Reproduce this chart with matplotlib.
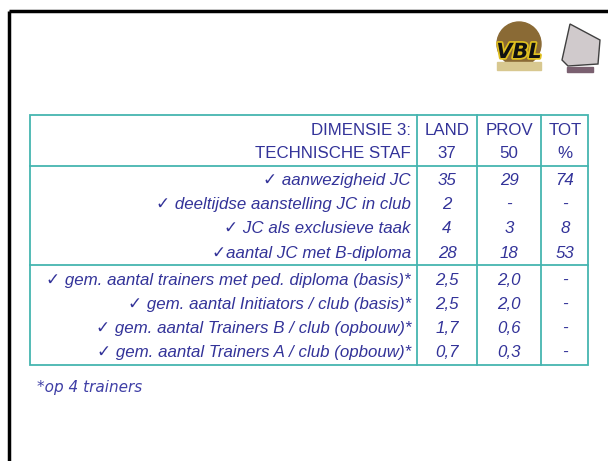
import matplotlib.pyplot as plt
from matplotlib.patches import Circle, Polygon, Rectangle
import matplotlib.patheffects as pe

# table contents
header_left = ['DIMENSIE 3:', 'TECHNISCHE STAF']
col_heads = ['LAND', 'PROV', 'TOT']
col_sub = ['37', '50', '%']

rows_a = ['\u2713 aanwezigheid JC', '\u2713 deeltijdse aanstelling JC in club',
          '\u2713 JC als exclusieve taak', '\u2713aantal JC met B-diploma']
land_a = ['35', '2', '4', '28']
prov_a = ['29', '-', '3', '18']
tot_a = ['74', '-', '8', '53']

rows_b = ['\u2713 gem. aantal trainers met ped. diploma (basis)*',
          '\u2713 gem. aantal Initiators / club (basis)*',
          '\u2713 gem. aantal Trainers B / club (opbouw)*',
          '\u2713 gem. aantal Trainers A / club (opbouw)*']
land_b = ['2,5', '2,5', '1,7', '0,7']
prov_b = ['2,0', '2,0', '0,6', '0,3']
tot_b = ['-', '-', '-', '-']

note = '*op 4 trainers'

blue = '#333399'
teal = '#45b5b0'
fam = ['Liberation Sans', 'DejaVu Sans']
fs = 12.2

fig = plt.figure(figsize=(6.08, 4.61), dpi=100)
ax = fig.add_axes([0, 0, 1, 1])
ax.set_xlim(0, 608)
ax.set_ylim(461, 0)
ax.axis('off')

# slide frame
ax.plot([9, 9], [461, 11], color='black', lw=2.5, solid_capstyle='butt')
ax.plot([9, 608], [11, 11], color='black', lw=2.5, solid_capstyle='butt')

# table grid
L, R, T, B = 30, 588, 115, 365
xs = [417, 477, 541]
ax.add_patch(Rectangle((L, T), R - L, B - T, fill=False, ec=teal, lw=1.3))
for x in xs:
    ax.plot([x, x], [T, B], color=teal, lw=1.3)
for y in [166, 265]:
    ax.plot([L, R], [y, y], color=teal, lw=1.3)

centers = [447, 509, 565]
lab_x = 411

for i, y in enumerate([130, 153]):
    ax.text(lab_x, y, header_left[i], ha='right', va='center', fontsize=fs,
            color=blue, family=fam)
for j in range(3):
    ax.text(centers[j], 130, col_heads[j], ha='center', va='center', fontsize=fs,
            color=blue, family=fam)
    ax.text(centers[j], 153, col_sub[j], ha='center', va='center', fontsize=fs,
            color=blue, family=fam)

ya = [180, 204, 228, 253]
for i, y in enumerate(ya):
    ax.text(lab_x, y, rows_a[i], ha='right', va='center', fontsize=fs,
            color=blue, family=fam, style='italic')
    for j, v in enumerate([land_a[i], prov_a[i], tot_a[i]]):
        ax.text(centers[j], y, v, ha='center', va='center', fontsize=fs,
                color=blue, family=fam, style='italic')

yb = [280, 304, 328, 352]
for i, y in enumerate(yb):
    ax.text(lab_x, y, rows_b[i], ha='right', va='center', fontsize=fs,
            color=blue, family=fam, style='italic')
    for j, v in enumerate([land_b[i], prov_b[i], tot_b[i]]):
        ax.text(centers[j], y, v, ha='center', va='center', fontsize=fs,
                color=blue, family=fam, style='italic')

ax.text(37, 387, note, ha='left', va='center', fontsize=11, color='#3f3fa6',
        family='DejaVu Sans', style='italic')

# rough logos
ax.add_patch(Circle((519, 44), 22, color='#8a6a35', zorder=2))
ax.add_patch(Rectangle((497, 62), 44, 8, color='#d8c890', zorder=2))
ax.text(519, 52, 'VBL', ha='center', va='center', fontsize=15, fontweight='bold',
        style='italic', color='#111111', family='DejaVu Sans', zorder=3,
        path_effects=[pe.withStroke(linewidth=2.5, foreground='#e0c020')])
ax.add_patch(Polygon([[570, 24], [600, 40], [598, 64], [568, 66], [562, 60]],
                     closed=True, fc='#d0cacc', ec='#404040', lw=1.0, zorder=2))
ax.add_patch(Rectangle((567, 67), 26, 5, color='#7a6070', zorder=2))

fig.savefig('out.png', dpi=100)
